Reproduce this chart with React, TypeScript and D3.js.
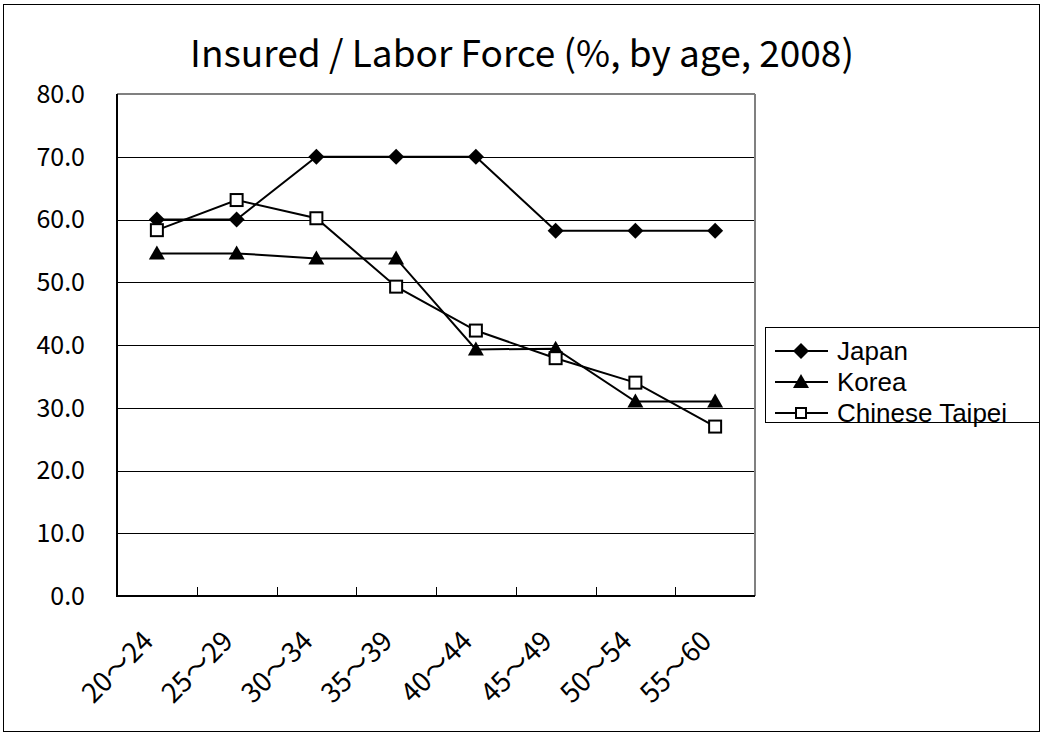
import React from 'react';
import * as d3 from 'd3';

const ageGroups = ['20～24', '25～29', '30～34', '35～39', '40～44', '45～49', '50～54', '55～60'];
const japan = [60.0, 60.0, 70.0, 70.0, 70.0, 58.2, 58.2, 58.2];
const korea = [54.6, 54.6, 53.8, 53.8, 39.3, 39.4, 31.0, 31.0];
const taipei = [58.3, 63.1, 60.2, 49.3, 42.3, 37.9, 34.0, 27.0];
const yTicks = [0, 10, 20, 30, 40, 50, 60, 70, 80];
const seriesNames = ['Japan', 'Korea', 'Chinese Taipei'];

const W = 1041;
const H = 733;
const plot = { left: 117, right: 755, top: 94, bottom: 596 };
const font = '"MS PGothic", "Noto Sans CJK JP", sans-serif';
const legendFont = '"MS PGothic", "Liberation Sans", Arial, sans-serif';

const Marker = ({ kind, x, y }: { kind: string; x: number; y: number }) => {
  if (kind === 'diamond') {
    return <path d={`M${x},${y - 8}L${x + 8},${y}L${x},${y + 8}L${x - 8},${y}Z`} fill="#000" />;
  }
  if (kind === 'triangle') {
    return <path d={`M${x},${y - 8}L${x + 8},${y + 6}L${x - 8},${y + 6}Z`} fill="#000" />;
  }
  if (kind === 'smallsquare') {
    return <rect x={x - 5} y={y - 5} width={10} height={10} fill="#fff" stroke="#000" strokeWidth={2} />;
  }
  return <rect x={x - 6} y={y - 6} width={12} height={12} fill="#fff" stroke="#000" strokeWidth={2} />;
};

export default function App() {
  const x = d3.scalePoint<string>().domain(ageGroups).range([plot.left, plot.right]).padding(0.5);
  const y = d3.scaleLinear().domain([0, 80]).range([plot.bottom, plot.top]);
  const step = x.step();

  const line = d3
    .line<number>()
    .x((_, i) => x(ageGroups[i]) as number)
    .y((d) => y(d));

  const series = [
    { name: seriesNames[0], values: japan, marker: 'diamond' },
    { name: seriesNames[1], values: korea, marker: 'triangle' },
    { name: seriesNames[2], values: taipei, marker: 'square' },
  ];

  return (
    <svg width={W} height={H} style={{ position: 'absolute', left: 0, top: 0, background: '#fff' }}>
      <rect x={3.5} y={4.5} width={1036} height={727} fill="#fff" stroke="#000" />
      <text x={522} y={67} textAnchor="middle" fontFamily={font} fontSize={37}>
        Insured / Labor Force (%, by age, 2008)
      </text>

      {/* gridlines + y labels */}
      {yTicks.map((t) => (
        <g key={t}>
          {t > 0 && t < 80 && (
            <line x1={plot.left} x2={plot.right} y1={Math.round(y(t)) + 0.5} y2={Math.round(y(t)) + 0.5} stroke="#000" />
          )}
          <line x1={plot.left} x2={plot.left + 9} y1={Math.round(y(t)) + 0.5} y2={Math.round(y(t)) + 0.5} stroke="#000" />
          <text x={85} y={y(t)} dy="0.35em" textAnchor="end" fontFamily={font} fontSize={25}>
            {t.toFixed(1)}
          </text>
        </g>
      ))}
      <line x1={plot.left} x2={plot.right} y1={plot.top} y2={plot.top} stroke="#808080" strokeWidth={2} />
      <line x1={plot.right} x2={plot.right} y1={plot.top} y2={plot.bottom} stroke="#808080" strokeWidth={2} />
      <line x1={plot.left} x2={plot.left} y1={plot.top} y2={plot.bottom + 1} stroke="#000" strokeWidth={2} />
      <line x1={plot.left} x2={plot.right} y1={plot.bottom} y2={plot.bottom} stroke="#000" strokeWidth={2} />

      {/* x ticks + labels */}
      {ageGroups.map((g, i) => {
        const cx = x(g) as number;
        const bx = Math.round(cx + step / 2) + 0.5;
        return (
          <g key={g}>
            {i < ageGroups.length - 1 && <line x1={bx} x2={bx} y1={plot.bottom - 9} y2={plot.bottom} stroke="#000" />}
            <text
              transform={`translate(${cx - 2},${plot.bottom + 47}) rotate(-45)`}
              textAnchor="end"
              fontFamily={font}
              fontSize={27}
            >
              {g}
            </text>
          </g>
        );
      })}

      {/* series */}
      {series.map((s) => (
        <g key={s.name}>
          <path d={line(s.values) || ''} fill="none" stroke="#000" strokeWidth={2} />
          {s.values.map((v, i) => (
            <Marker key={i} kind={s.marker} x={x(ageGroups[i]) as number} y={y(v)} />
          ))}
        </g>
      ))}

      {/* legend */}
      <rect x={765.5} y={327.5} width={274} height={95} fill="#fff" stroke="#000" />
      {series.map((s, i) => {
        const ly = 351 + i * 31;
        return (
          <g key={s.name}>
            <line x1={775} x2={828} y1={ly} y2={ly} stroke="#000" strokeWidth={2} />
            <Marker kind={s.marker === 'square' ? 'smallsquare' : s.marker} x={801} y={ly} />
            <text x={837} y={ly} dy="0.36em" fontFamily={legendFont} fontSize={26}>
              {s.name}
            </text>
          </g>
        );
      })}
    </svg>
  );
}
